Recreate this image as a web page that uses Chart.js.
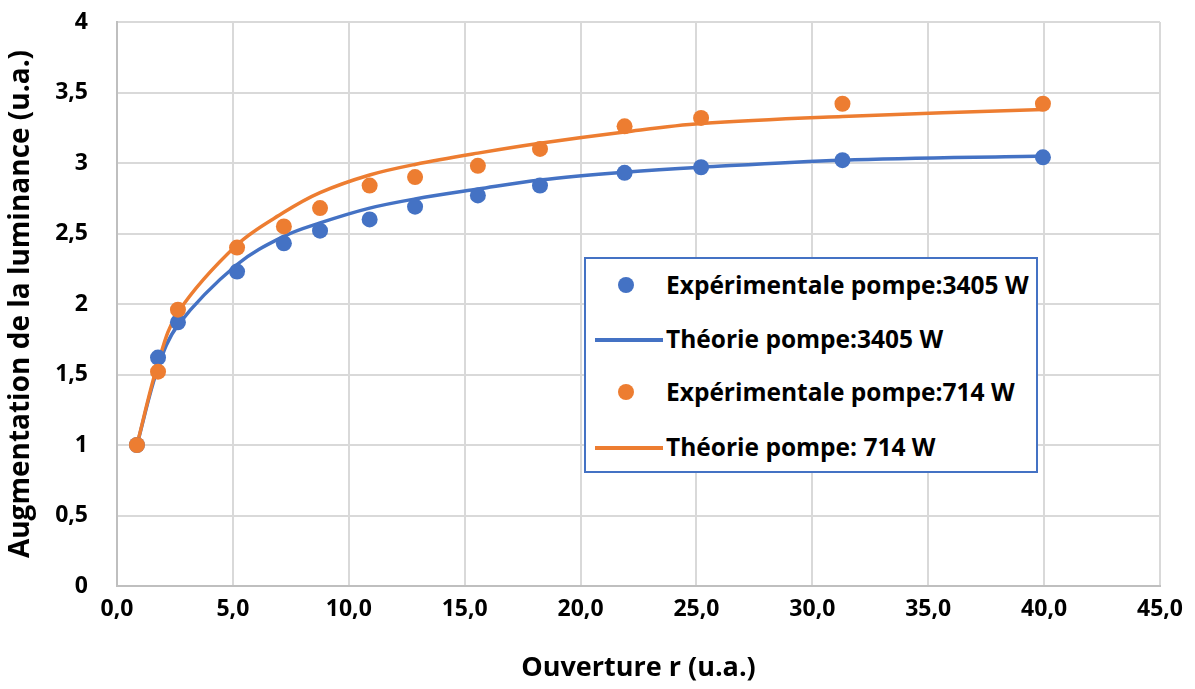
<!DOCTYPE html>
<html>
<head>
<meta charset="utf-8">
<script src="https://cdn.jsdelivr.net/npm/chart.js"></script>
<style>
  html, body { margin: 0; padding: 0; background: #fff; }
  #wrap { position: relative; width: 1195px; height: 689px; }
  #legend {
    position: absolute; left: 584px; top: 257px; width: 450px; height: 212px;
    border: 2px solid #4472c4; background: #fff; box-sizing: content-box;
    font-family: "Open Sans", Lato, sans-serif; font-weight: bold; font-size: 24.5px; color: #000;
  }
  .row { position: absolute; left: 0; height: 30px; line-height: 30px; white-space: nowrap; }
  .row .key { position: absolute; left: 0; width: 80px; height: 30px; }
  .row .txt { position: absolute; left: 80px; }
</style>
</head>
<body>
<div id="wrap">
  <canvas id="chart" width="1195" height="689"></canvas>
  <div id="legend"></div>
</div>
<script>
// ouverture r (u.a.)
const ouverture = [0.86, 1.77, 2.63, 5.18, 7.2, 8.76, 10.9, 12.86, 15.57, 18.25, 21.9, 25.2, 31.3, 39.95];

// pompe 3405 W
const exp3405 = [1.0, 1.62, 1.87, 2.23, 2.43, 2.52, 2.6, 2.69, 2.77, 2.84, 2.93, 2.97, 3.02, 3.04];
const theo3405 = [1.0, 1.55, 1.85, 2.28, 2.48, 2.575, 2.68, 2.745, 2.815, 2.88, 2.935, 2.97, 3.02, 3.05];

// pompe 714 W
const exp714 = [1.0, 1.52, 1.96, 2.4, 2.55, 2.68, 2.84, 2.9, 2.98, 3.1, 3.26, 3.32, 3.42, 3.42];
const theo714 = [1.0, 1.58, 1.94, 2.42, 2.65, 2.79, 2.915, 2.99, 3.07, 3.14, 3.22, 3.28, 3.33, 3.38];

const xTicks = [0, 5, 10, 15, 20, 25, 30, 35, 40, 45];

const BLUE = '#4472c4';
const ORANGE = '#ed7d31';
const FONT = '"Open Sans", Lato, sans-serif';

const pts = (xs, ys) => xs.map((x, i) => ({ x: x, y: ys[i] }));

const datasets = [
  { label: 'Expérimentale pompe:3405 W', data: pts(ouverture, exp3405), type: 'scatter',
    showLine: false, pointRadius: 8, pointHoverRadius: 8, pointBackgroundColor: BLUE, pointBorderWidth: 0,
    borderColor: BLUE, backgroundColor: BLUE, order: 1 },
  { label: 'Théorie pompe:3405 W', data: pts(ouverture, theo3405), type: 'line',
    showLine: true, pointRadius: 0, borderColor: BLUE, borderWidth: 3.5, tension: 0.35, fill: false, order: 3 },
  { label: 'Expérimentale pompe:714 W', data: pts(ouverture, exp714), type: 'scatter',
    showLine: false, pointRadius: 8, pointHoverRadius: 8, pointBackgroundColor: ORANGE, pointBorderWidth: 0,
    borderColor: ORANGE, backgroundColor: ORANGE, order: 0 },
  { label: 'Théorie pompe: 714 W', data: pts(ouverture, theo714), type: 'line',
    showLine: true, pointRadius: 0, borderColor: ORANGE, borderWidth: 3.5, tension: 0.35, fill: false, order: 2 }
];

// légende dans la zone de tracé
const legend = document.getElementById('legend');
const rowTops = [11, 65, 118, 173];
datasets.forEach((ds, i) => {
  const row = document.createElement('div');
  row.className = 'row';
  row.style.top = rowTops[i] + 'px';
  const key = document.createElement('div');
  key.className = 'key';
  if (ds.showLine) {
    key.innerHTML = '<div style="position:absolute;left:9px;top:14px;width:68px;height:4px;background:' + ds.borderColor + '"></div>';
  } else {
    key.innerHTML = '<div style="position:absolute;left:32px;top:7px;width:16px;height:16px;border-radius:8px;background:' + ds.backgroundColor + '"></div>';
  }
  const txt = document.createElement('span');
  txt.className = 'txt';
  txt.textContent = ds.label;
  row.appendChild(key);
  row.appendChild(txt);
  legend.appendChild(row);
});

const ctx = document.getElementById('chart').getContext('2d');
new Chart(ctx, {
  type: 'scatter',
  data: { datasets: datasets },
  options: {
    responsive: false,
    animation: false,
    layout: { autoPadding: false, padding: { top: 22, right: 35, left: 0, bottom: 0 } },
    plugins: { legend: { display: false }, tooltip: { enabled: false } },
    scales: {
      x: {
        type: 'linear', min: 0, max: 45,
        afterBuildTicks: s => { s.ticks = xTicks.map(v => ({ value: v })); },
        afterFit: s => { s.height = 103; s.paddingLeft = 0; s.paddingRight = 0; },
        ticks: {
          color: '#000', padding: 10,
          font: { family: FONT, size: 23, weight: 'bold' },
          callback: v => v.toFixed(1).replace('.', ',')
        },
        grid: { color: '#d9d9d9', lineWidth: 2, drawTicks: false },
        border: { color: '#bfbfbf', width: 2 },
        title: { display: true, text: 'Ouverture r (u.a.)', color: '#000',
          font: { family: FONT, size: 27, weight: 'bold' }, padding: { top: 12 } }
      },
      y: {
        type: 'linear', min: 0, max: 4,
        ticks: {
          stepSize: 0.5, color: '#000', padding: 29,
          font: { family: FONT, size: 23, weight: 'bold' },
          callback: v => String(v).replace('.', ',')
        },
        afterFit: s => { s.width = 117; s.paddingTop = 0; s.paddingBottom = 0; },
        grid: { color: '#d9d9d9', lineWidth: 2, drawTicks: false },
        border: { color: '#bfbfbf', width: 2 },
        title: { display: true, text: 'Augmentation de la luminance (u.a.)', color: '#000',
          font: { family: FONT, size: 28, weight: 'bold' }, padding: { top: 4, bottom: 0 } }
      }
    }
  }
});
</script>
</body>
</html>
